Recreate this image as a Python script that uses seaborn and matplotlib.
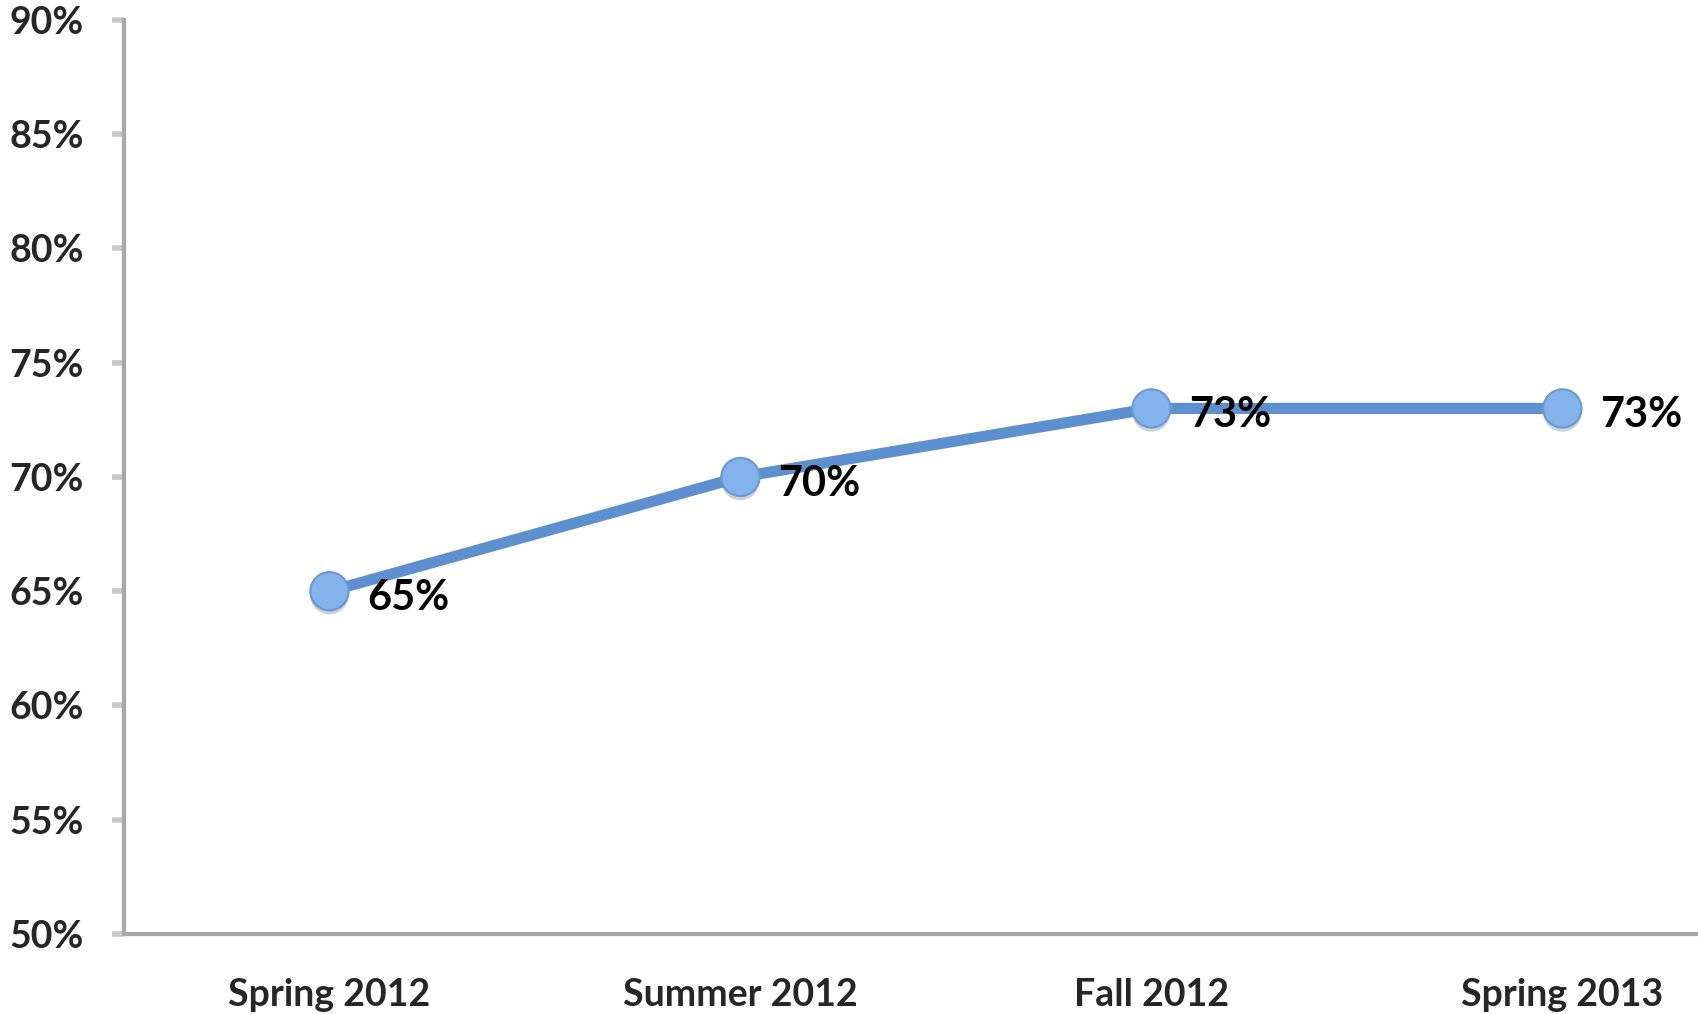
import pandas as pd
import seaborn as sns
import matplotlib.pyplot as plt
import matplotlib.patheffects as pe
from matplotlib.ticker import FixedLocator, PercentFormatter

terms = ['Spring 2012', 'Summer 2012', 'Fall 2012', 'Spring 2013']
rates = [65, 70, 73, 73]
y_ticks = [50, 55, 60, 65, 70, 75, 80, 85, 90]

df = pd.DataFrame({'term': terms, 'rate': rates})

sns.set_style('white')
plt.rcParams['font.family'] = ['Lato', 'DejaVu Sans']
plt.rcParams['font.weight'] = 'bold'

fig = plt.figure(figsize=(16.98, 10.14), dpi=100)
ax = fig.add_axes([0.073, 0.0789, 0.927, 0.9014])

line_col = '#5E90CF'
sns.lineplot(data=df, x='term', y='rate', sort=False, ax=ax, color=line_col,
             linewidth=8)
# markers with a soft drop shadow
sns.scatterplot(data=df, x='term', y='rate', ax=ax, s=760, color='#84B2EA',
                edgecolor='#6A9AD6', linewidth=1.5, zorder=3,
                path_effects=[pe.SimplePatchShadow(offset=(0, -3), alpha=0.22),
                              pe.Normal()])

# data labels to the right of each point
for i, v in enumerate(df['rate']):
    ax.annotate(f'{v}%', (i, v), xytext=(27, -5), textcoords='offset points',
                ha='left', va='center', fontsize=30, fontweight='bold', color='black')

ax.set_ylim(50, 90)
ax.set_yticks(y_ticks)
ax.yaxis.set_major_formatter(PercentFormatter(decimals=0))
ax.set_xlim(-0.5, 3.33)

# labels at category centres, tick marks at category boundaries
ax.set_xticks(range(len(terms)))
ax.set_xticklabels(terms)
ax.xaxis.set_minor_locator(FixedLocator([-0.5, 0.5, 1.5, 2.5, 3.5]))
ax.tick_params(axis='x', which='major', length=0, pad=32, labelsize=27)
ax.tick_params(axis='x', which='minor', length=9, width=4, color='#C8C8C8')
ax.tick_params(axis='y', which='major', length=9, width=4, color='#C8C8C8',
               pad=20, labelsize=27, left=True)
for lab in ax.get_xticklabels() + ax.get_yticklabels():
    lab.set_fontweight('bold')

ax.set_xlabel('')
ax.set_ylabel('')
for side in ['top', 'right']:
    ax.spines[side].set_visible(False)
for side in ['left', 'bottom']:
    ax.spines[side].set_color('#A8A8A8')
    ax.spines[side].set_linewidth(3)

fig.savefig('out.png', dpi=100)
